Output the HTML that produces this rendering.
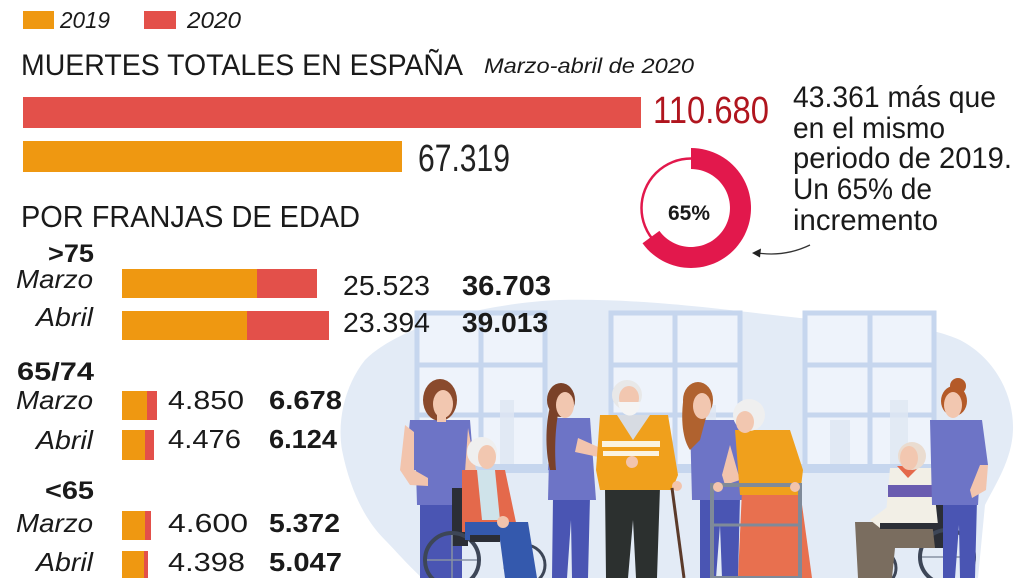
<!DOCTYPE html>
<html><head><meta charset="utf-8">
<style>
html,body{margin:0;padding:0;background:#fff;}
svg{display:block;}
text{font-family:"Liberation Sans",sans-serif;}
</style></head>
<body>
<svg width="1028" height="578" viewBox="0 0 1028 578" xmlns="http://www.w3.org/2000/svg">
<rect width="1028" height="578" fill="#fff"/>

<!-- illustration background -->
<path d="M560,300 C650,298 740,312 800,318 C860,322 920,322 960,340 C995,358 1014,395 1013,430 C1012,460 995,485 985,505 L978,578 L422,578 C405,562 395,550 385,540 C365,520 350,490 342,450 C337,420 345,385 365,360 C390,335 440,318 480,310 C510,304 535,301 560,300 Z" fill="#e3ebf6"/>

<!-- windows -->
<g fill="#eef3fb" stroke="#c6d6ee" stroke-width="5">
  <rect x="417" y="313" width="128" height="154"/>
  <rect x="611" y="313" width="129" height="154"/>
  <rect x="805" y="313" width="129" height="154"/>
</g>
<g stroke="#c6d6ee" stroke-width="5">
  <line x1="481" y1="313" x2="481" y2="467"/><line x1="417" y1="365" x2="545" y2="365"/><line x1="417" y1="415" x2="545" y2="415"/>
  <line x1="675" y1="313" x2="675" y2="467"/><line x1="611" y1="365" x2="740" y2="365"/><line x1="611" y1="415" x2="740" y2="415"/>
  <line x1="870" y1="313" x2="870" y2="467"/><line x1="805" y1="365" x2="934" y2="365"/><line x1="805" y1="415" x2="934" y2="415"/>
</g>
<g fill="#c6d6ee">
  <rect x="410" y="464" width="142" height="9"/>
  <rect x="604" y="464" width="143" height="9"/>
  <rect x="798" y="464" width="143" height="9"/>
</g>
<g fill="#dfe7f3" opacity="0.8">
  <rect x="440" y="420" width="18" height="44"/><rect x="500" y="400" width="14" height="64"/>
  <rect x="630" y="425" width="20" height="39"/><rect x="700" y="405" width="16" height="59"/>
  <rect x="830" y="420" width="20" height="44"/><rect x="890" y="400" width="18" height="64"/>
</g>

<!-- Nurse 1 -->
<g>
  <rect x="420" y="500" width="42" height="78" fill="#4a55b3"/>
  <path d="M410,420 L470,420 L474,470 L466,470 L465,505 L417,505 L416,470 L405,470 Z" fill="#6d74c6"/>
  <path d="M405,425 L400,470 L410,485 L428,486 L428,478 L414,470 L414,432 Z" fill="#f2c4ad"/>
  <path d="M468,428 L476,470 L470,478 L465,472 Z" fill="#f2c4ad"/>
  <ellipse cx="440" cy="400" rx="17" ry="21" fill="#8a4a2d"/>
  <ellipse cx="443" cy="404" rx="10" ry="14" fill="#f2c7b0"/>
  <rect x="437" y="414" width="9" height="8" fill="#f2c7b0"/>
</g>

<!-- wheelchair 1 + old woman -->
<g>
  <rect x="452" y="488" width="16" height="58" fill="#2b2e36"/>
  <circle cx="452" cy="560" r="27" fill="none" stroke="#3d4657" stroke-width="4"/>
  <circle cx="525" cy="565" r="20" fill="none" stroke="#3d4657" stroke-width="3"/>
  <line x1="452" y1="535" x2="452" y2="585" stroke="#8892a3" stroke-width="1.5"/>
  <line x1="427" y1="560" x2="477" y2="560" stroke="#8892a3" stroke-width="1.5"/>
  <path d="M462,470 L505,470 L518,532 L462,532 Z" fill="#e4694b"/>
  <path d="M477,470 L495,470 L500,520 L482,520 Z" fill="#cfe3ea"/>
  <path d="M465,522 L528,522 L537,578 L505,578 L500,540 L465,540 Z" fill="#3459ad"/>
  <rect x="470" y="535" width="30" height="7" fill="#2b2e36"/>
  <circle cx="482" cy="452" r="15" fill="#efefef"/>
  <ellipse cx="487" cy="457" rx="9" ry="12" fill="#f2c7b0"/>
  <circle cx="503" cy="522" r="6" fill="#f2c4ad"/>
</g>

<!-- Nurse 2 -->
<g>
  <path d="M553,497 L590,497 L588,578 L572,578 L571,520 L567,578 L552,578 Z" fill="#4a55b3"/>
  <path d="M550,418 L590,418 L596,500 L548,500 Z" fill="#6d74c6"/>
  <path d="M578,438 L605,450 L603,458 L575,452 Z" fill="#f2c4ad"/>
  <path d="M552,420 L548,470 L555,472 L560,430 Z" fill="#6d74c6"/>
  <path d="M552,400 C545,420 545,450 550,470 L556,470 C554,445 556,420 560,405 Z" fill="#7a4128"/>
  <ellipse cx="561" cy="400" rx="14" ry="17" fill="#7a4128"/>
  <ellipse cx="565" cy="405" rx="9" ry="13" fill="#f2c7b0"/>
</g>

<!-- Old man with cane -->
<g>
  <path d="M605,487 L660,487 L657,578 L636,578 L633,520 L628,578 L606,578 Z" fill="#2c302f"/>
  <path d="M600,415 L668,415 L678,475 L672,490 L600,490 L596,470 Z" fill="#f0a01c"/>
  <path d="M617,415 L650,415 L633,440 Z" fill="#d7dbe2"/>
  <rect x="602" y="441" width="58" height="6" fill="#fbf3e0"/>
  <rect x="603" y="451" width="56" height="5" fill="#fbf3e0"/>
  <circle cx="632" cy="462" r="6" fill="#f2c4ad"/>
  <circle cx="677" cy="486" r="5" fill="#f2c4ad"/>
  <line x1="672" y1="488" x2="684" y2="578" stroke="#5b3a2a" stroke-width="3"/>
  <circle cx="627" cy="395" r="15" fill="#e8e8e8"/>
  <ellipse cx="629" cy="398" rx="10" ry="12" fill="#f2c7b0"/>
  <path d="M618,402 C620,420 640,420 640,402 Z" fill="#f4f4f4"/>
</g>

<!-- Nurse 3 -->
<g>
  <path d="M700,497 L740,497 L738,578 L722,578 L720,525 L716,578 L700,578 Z" fill="#4a55b3"/>
  <path d="M690,420 L738,420 L745,500 L692,500 Z" fill="#6d74c6"/>
  <path d="M730,445 L740,480 L725,485 L722,475 Z" fill="#f2c4ad"/>
  <path d="M684,395 C680,420 683,440 690,450 L700,440 L712,395 Z" fill="#b0622f"/>
  <ellipse cx="698" cy="400" rx="15" ry="18" fill="#b0622f"/>
  <ellipse cx="702" cy="406" rx="9" ry="13" fill="#f2c7b0"/>
</g>

<!-- Walker old woman -->
<g>
  <path d="M742,490 L800,490 L812,578 L738,578 Z" fill="#e8704f"/>
  <path d="M735,430 L790,430 L803,470 L800,495 L740,495 Z" fill="#f0a01c"/>
  <circle cx="749" cy="415" r="16" fill="#efefef"/>
  <ellipse cx="745" cy="422" rx="9" ry="11" fill="#f2c7b0"/>
  <rect x="712" y="485" width="88" height="93" fill="none" stroke="#7f8a99" stroke-width="4"/>
  <line x1="712" y1="525" x2="800" y2="525" stroke="#7f8a99" stroke-width="3"/>
  <circle cx="718" cy="487" r="5" fill="#f2c4ad"/>
  <circle cx="795" cy="487" r="5" fill="#f2c4ad"/>
</g>

<!-- Right wheelchair + old man -->
<g>
  <rect x="930" y="490" width="15" height="58" fill="#2b2e36"/>
  <circle cx="947" cy="557" r="27" fill="none" stroke="#3d4657" stroke-width="4"/>
  <circle cx="878" cy="568" r="18" fill="none" stroke="#3d4657" stroke-width="3"/>
  <line x1="947" y1="532" x2="947" y2="582" stroke="#8892a3" stroke-width="1.5"/>
  <line x1="922" y1="557" x2="972" y2="557" stroke="#8892a3" stroke-width="1.5"/>
  <path d="M855,522 L932,522 L935,548 L895,548 L892,578 L858,578 Z" fill="#7a6d5f"/>
  <path d="M890,468 L932,468 L938,525 L885,525 Z" fill="#f2efe6"/>
  <path d="M888,485 L936,485 L936,497 L888,497 Z" fill="#6a5cb0"/>
  <path d="M897,466 L920,466 L908,478 Z" fill="#e4694b"/>
  <path d="M870,520 L890,505 L895,515 L880,528 Z" fill="#f2efe6"/>
  <circle cx="912" cy="456" r="14" fill="#eadcd0"/>
  <ellipse cx="909" cy="458" rx="9" ry="12" fill="#f2c7b0"/>
  <rect x="880" y="523" width="60" height="6" fill="#2b2e36"/>
</g>

<!-- Nurse 4 -->
<g>
  <path d="M943,500 L977,500 L975,578 L960,578 L959,525 L955,578 L943,578 Z" fill="#4a55b3"/>
  <path d="M930,420 L982,420 L988,465 L980,470 L978,505 L932,505 Z" fill="#6d74c6"/>
  <path d="M980,465 L988,465 L986,490 L972,498 L970,490 Z" fill="#f2c4ad"/>
  <circle cx="958" cy="386" r="8" fill="#b45a28"/>
  <ellipse cx="954" cy="401" rx="13" ry="15" fill="#b45a28"/>
  <ellipse cx="953" cy="405" rx="9" ry="13" fill="#f2c7b0"/>
</g>

<!-- Legend -->
<rect x="23" y="11" width="31" height="18" fill="#ef9811"/>
<text x="60" y="28" font-size="23" font-style="italic" fill="#1a1a1a" textLength="50" lengthAdjust="spacingAndGlyphs">2019</text>
<rect x="144" y="11" width="32" height="18" fill="#e3504a"/>
<text x="187" y="28" font-size="23" font-style="italic" fill="#1a1a1a" textLength="54" lengthAdjust="spacingAndGlyphs">2020</text>

<!-- Title -->
<text x="21" y="75" font-size="30" fill="#1a1a1a" textLength="442" lengthAdjust="spacingAndGlyphs">MUERTES TOTALES EN ESPAÑA</text>
<text x="484" y="73" font-size="21" font-style="italic" fill="#1a1a1a" textLength="210" lengthAdjust="spacingAndGlyphs">Marzo-abril de 2020</text>

<!-- Total bars -->
<rect x="23" y="97" width="618" height="31" fill="#e3504a"/>
<text x="653" y="123" font-size="38" fill="#b0151e" textLength="116" lengthAdjust="spacingAndGlyphs">110.680</text>
<rect x="23" y="141" width="379" height="31" fill="#ef9811"/>
<text x="418" y="171" font-size="38" fill="#222" textLength="92" lengthAdjust="spacingAndGlyphs">67.319</text>

<!-- Right text -->
<g font-size="30" fill="#1a1a1a">
  <text x="793" y="107" textLength="203" lengthAdjust="spacingAndGlyphs">43.361 más que</text>
  <text x="793" y="138" textLength="152" lengthAdjust="spacingAndGlyphs">en el mismo</text>
  <text x="793" y="168" textLength="219" lengthAdjust="spacingAndGlyphs">periodo de 2019.</text>
  <text x="793" y="199" textLength="139" lengthAdjust="spacingAndGlyphs">Un 65% de</text>
  <text x="793" y="230" textLength="145" lengthAdjust="spacingAndGlyphs">incremento</text>
</g>

<!-- Donut -->
<circle cx="691" cy="208" r="49.5" fill="none" stroke="#e2184c" stroke-width="2.5"/>
<path d="M691,148 A60,60 0 1 1 642.5,243.3 L659.4,230.9 A39,39 0 1 0 691,169 Z" fill="#e2184c"/>
<text x="668" y="220" font-size="21" font-weight="bold" fill="#1a1a1a" textLength="42" lengthAdjust="spacingAndGlyphs">65%</text>
<path d="M810,245 Q785,257 758,253" fill="none" stroke="#333" stroke-width="1.3"/>
<polygon points="752,253 761,248.5 760,257.5" fill="#222"/>

<!-- Por franjas -->
<text x="21" y="227" font-size="31" fill="#1a1a1a" textLength="339" lengthAdjust="spacingAndGlyphs">POR FRANJAS DE EDAD</text>

<g fill="#1a1a1a" text-anchor="end">
  <text x="94" y="262" font-size="25" font-weight="bold" textLength="46" lengthAdjust="spacingAndGlyphs">&gt;75</text>
  <text x="93" y="288" font-size="26" font-style="italic" textLength="77" lengthAdjust="spacingAndGlyphs">Marzo</text>
  <text x="93" y="326" font-size="26" font-style="italic" textLength="57" lengthAdjust="spacingAndGlyphs">Abril</text>
  <text x="94" y="380" font-size="25" font-weight="bold" textLength="77" lengthAdjust="spacingAndGlyphs">65/74</text>
  <text x="93" y="409" font-size="26" font-style="italic" textLength="77" lengthAdjust="spacingAndGlyphs">Marzo</text>
  <text x="93" y="449" font-size="26" font-style="italic" textLength="57" lengthAdjust="spacingAndGlyphs">Abril</text>
  <text x="94" y="499" font-size="25" font-weight="bold" textLength="49" lengthAdjust="spacingAndGlyphs">&lt;65</text>
  <text x="93" y="532" font-size="26" font-style="italic" textLength="77" lengthAdjust="spacingAndGlyphs">Marzo</text>
  <text x="93" y="571" font-size="26" font-style="italic" textLength="57" lengthAdjust="spacingAndGlyphs">Abril</text>
</g>

<!-- age bars -->
<rect x="122" y="269" width="195" height="29" fill="#e3504a"/><rect x="122" y="269" width="135" height="29" fill="#ef9811"/>
<rect x="122" y="311" width="207" height="29" fill="#e3504a"/><rect x="122" y="311" width="125" height="29" fill="#ef9811"/>
<rect x="122" y="391" width="35" height="29" fill="#e3504a"/><rect x="122" y="391" width="25" height="29" fill="#ef9811"/>
<rect x="122" y="430" width="32" height="30" fill="#e3504a"/><rect x="122" y="430" width="23" height="30" fill="#ef9811"/>
<rect x="122" y="511" width="29" height="29" fill="#e3504a"/><rect x="122" y="511" width="23" height="29" fill="#ef9811"/>
<rect x="122" y="551" width="26" height="29" fill="#e3504a"/><rect x="122" y="551" width="22" height="29" fill="#ef9811"/>

<!-- numbers -->
<g fill="#1a1a1a">
  <text x="343" y="295" font-size="28" textLength="87" lengthAdjust="spacingAndGlyphs">25.523</text>
  <text x="462" y="295" font-size="28" font-weight="bold" textLength="89" lengthAdjust="spacingAndGlyphs">36.703</text>
  <text x="343" y="332" font-size="28" textLength="87" lengthAdjust="spacingAndGlyphs">23.394</text>
  <text x="462" y="332" font-size="28" font-weight="bold" textLength="86" lengthAdjust="spacingAndGlyphs">39.013</text>
  <text x="168" y="409" font-size="26" textLength="76" lengthAdjust="spacingAndGlyphs">4.850</text>
  <text x="269" y="409" font-size="26" font-weight="bold" textLength="73" lengthAdjust="spacingAndGlyphs">6.678</text>
  <text x="168" y="448" font-size="26" textLength="73" lengthAdjust="spacingAndGlyphs">4.476</text>
  <text x="269" y="448" font-size="26" font-weight="bold" textLength="68" lengthAdjust="spacingAndGlyphs">6.124</text>
  <text x="168" y="532" font-size="26" textLength="80" lengthAdjust="spacingAndGlyphs">4.600</text>
  <text x="269" y="532" font-size="26" font-weight="bold" textLength="71" lengthAdjust="spacingAndGlyphs">5.372</text>
  <text x="168" y="571" font-size="26" textLength="77" lengthAdjust="spacingAndGlyphs">4.398</text>
  <text x="269" y="571" font-size="26" font-weight="bold" textLength="73" lengthAdjust="spacingAndGlyphs">5.047</text>
</g>
</svg>
</body></html>
